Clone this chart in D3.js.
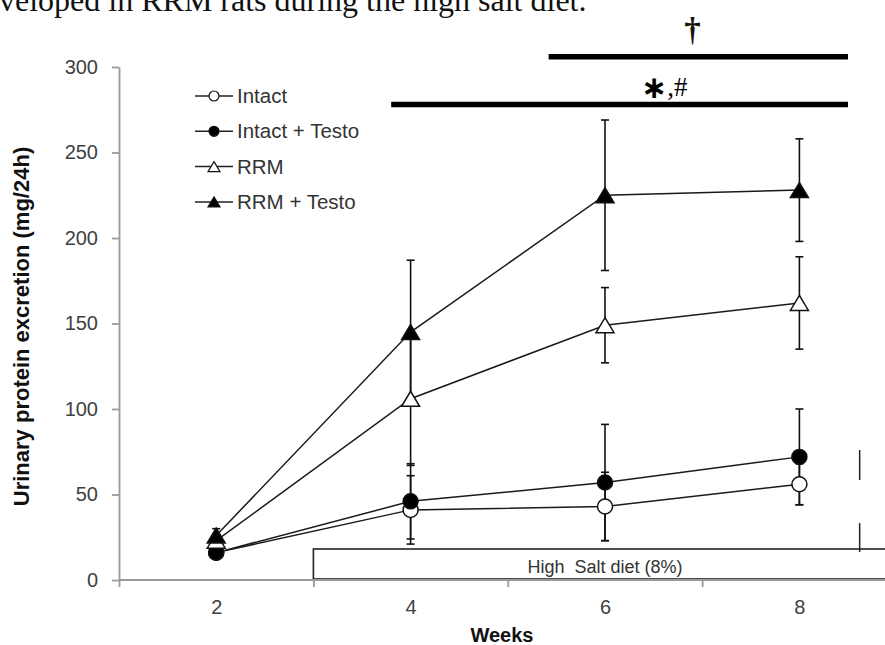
<!DOCTYPE html>
<html lang="en">
<head>
    <meta charset="UTF-8">
    <title>Urinary protein excretion</title>
    <script src="https://d3js.org/d3.v7.min.js"></script>
    <style>
        body {
            margin: 0;
            background-color: #fff;
        }
        svg {
            display: block;
        }
    </style>
</head>
<body>
    <div id="chart"></div>

    <script>
        // data (mean and error per week)
        const weeks = [2, 4, 6, 8];
        const seriesNames = ["Intact", "Intact + Testo", "RRM", "RRM + Testo"];
        const intactMean = [16, 41, 43, 56];
        const intactErr = [3, 20, 20, 12];
        const intactTestoMean = [16, 46, 57, 72];
        const intactTestoErr = [3, 22, 34, 28];
        const rrmMean = [23, 106, 149, 162];
        const rrmErr = [4, 39, 22, 27];
        const rrmTestoMean = [26, 145, 225, 228];
        const rrmTestoErr = [4, 42, 44, 30];

        const yTicks = [0, 50, 100, 150, 200, 250, 300];
        const xMinorTicks = [1, 3, 5, 7, 9];
        const xLabels = [2, 4, 6, 8];

        // annotations
        const dietBand = { from: 3, to: 9.3, label: "High  Salt diet (8%)" };
        const sigBars = [
            { from: 5.42, to: 8.5, level: 306, label: "†", labelAt: 6.9 },
            { from: 3.8, to: 8.5, level: 278, label: "∗,#", labelAt: 6.61 }
        ];
        const breakWeek = 8.62;
        const breakSegs = [[76, 58.5], [33.3, 16.4]];
        const captionText = "veloped in RRM rats during the high salt diet.";

        const width = 885, height = 645;
        const svg = d3.select('#chart').append('svg')
            .attr('width', width)
            .attr('height', height);

        const x = d3.scaleLinear().domain([1, 9]).range([119, 896.6]);
        const y = d3.scaleLinear().domain([0, 300]).range([580, 67]);

        const series = [
            { name: seriesNames[0], mean: intactMean, err: intactErr, shape: 'circle', fill: '#fff' },
            { name: seriesNames[1], mean: intactTestoMean, err: intactTestoErr, shape: 'circle', fill: '#000' },
            { name: seriesNames[2], mean: rrmMean, err: rrmErr, shape: 'triangle', fill: '#fff' },
            { name: seriesNames[3], mean: rrmTestoMean, err: rrmTestoErr, shape: 'triangle', fill: '#000' }
        ];

        // caption fragment cut at the top of the picture (as in the source)
        svg.append('text')
            .attr('x', -1)
            .attr('y', 11)
            .style('font-family', '"Liberation Serif", serif')
            .style('font-size', '32px')
            .style('fill', '#111')
            .text(captionText);

        // high salt diet box
        const band = svg.append('g');
        band.append('rect')
            .attr('x', x(dietBand.from))
            .attr('y', y(0) - 31)
            .attr('width', x(dietBand.to) - x(dietBand.from))
            .attr('height', 30)
            .style('fill', '#fff')
            .style('stroke', '#222')
            .style('stroke-width', 1.6);
        band.append('text')
            .attr('x', x(6))
            .attr('y', y(0) - 7.5)
            .attr('text-anchor', 'middle')
            .style('font-family', '"Liberation Sans", Arial, sans-serif')
            .style('font-size', '18px')
            .style('fill', '#333')
            .style('white-space', 'pre')
            .text(dietBand.label);

        // axes
        const yAxis = svg.append('g')
            .attr('transform', `translate(${x(1)},0)`)
            .call(d3.axisLeft(y).tickValues(yTicks).tickSize(7).tickSizeOuter(0).tickPadding(14));
        const xAxis = svg.append('g')
            .attr('transform', `translate(0,${y(0)})`)
            .call(d3.axisBottom(x).tickValues(xMinorTicks).tickSize(7).tickSizeOuter(0).tickFormat(''));
        xAxis.select('.domain').attr('d', `M${x(1)},0H${width}`);
        const xLab = svg.append('g')
            .attr('transform', `translate(0,${y(0)})`)
            .call(d3.axisBottom(x).tickValues(xLabels).tickSize(0).tickPadding(20).tickFormat(d3.format('d')));
        xLab.select('.domain').remove();

        [yAxis, xAxis, xLab].forEach(g => {
            g.selectAll('.domain, line').style('stroke', '#9a9a9a').style('stroke-width', 1.8);
            g.selectAll('text')
                .style('font-family', '"Liberation Sans", Arial, sans-serif')
                .style('font-size', '20px')
                .style('fill', '#404040');
        });

        svg.append('text')
            .attr('x', (x(1) + width) / 2)
            .attr('y', 642)
            .attr('text-anchor', 'middle')
            .style('font-family', '"Liberation Sans", Arial, sans-serif')
            .style('font-size', '20px')
            .style('font-weight', 'bold')
            .style('fill', '#111')
            .text('Weeks');

        svg.append('text')
            .attr('transform', `translate(29,${(y(0) + y(300)) / 2 + 3}) rotate(-90)`)
            .attr('text-anchor', 'middle')
            .style('font-family', '"Liberation Sans", Arial, sans-serif')
            .style('font-size', '22px')
            .style('font-weight', 'bold')
            .style('fill', '#111')
            .text('Urinary protein excretion (mg/24h)');

        // marker shapes
        function markerPath(shape, s) {
            if (shape === 'circle') {
                return d3.symbol().type(d3.symbolCircle).size(Math.PI * s * s)();
            }
            const w = s * 1.2, h = s;
            return `M0,${-h}L${w},${h}L${-w},${h}Z`;
        }

        const plot = svg.append('g');
        const line = d3.line().x((d, i) => x(weeks[i])).y(d => y(d));

        series.forEach(s => {
            plot.append('path')
                .datum(s.mean)
                .attr('d', line)
                .style('fill', 'none')
                .style('stroke', '#1a1a1a')
                .style('stroke-width', 1.5);
        });

        // error bars
        series.forEach(s => {
            const g = plot.append('g').selectAll('g')
                .data(s.mean.map((m, i) => ({ w: weeks[i], m, e: s.err[i] })))
                .enter().append('g');
            g.append('line')
                .attr('x1', d => x(d.w)).attr('x2', d => x(d.w))
                .attr('y1', d => y(d.m - d.e)).attr('y2', d => y(d.m + d.e))
                .style('stroke', '#111').style('stroke-width', 1.6);
            [-1, 1].forEach(sign => {
                g.append('line')
                    .attr('x1', d => x(d.w) - 4).attr('x2', d => x(d.w) + 4)
                    .attr('y1', d => y(d.m + sign * d.e)).attr('y2', d => y(d.m + sign * d.e))
                    .style('stroke', '#111').style('stroke-width', 1.6);
            });
        });

        // markers
        series.forEach(s => {
            plot.append('g').selectAll('path')
                .data(s.mean)
                .enter().append('path')
                .attr('transform', (d, i) => `translate(${x(weeks[i])},${y(d)})`)
                .attr('d', markerPath(s.shape, 7.5))
                .style('fill', s.fill)
                .style('stroke', '#111')
                .style('stroke-width', 1.5);
        });

        // break marks on the right
        plot.selectAll('.brk')
            .data(breakSegs)
            .enter().append('line')
            .attr('class', 'brk')
            .attr('x1', x(breakWeek)).attr('x2', x(breakWeek))
            .attr('y1', d => y(d[0])).attr('y2', d => y(d[1]))
            .style('stroke', '#222').style('stroke-width', 1.5);

        // significance bars
        const sig = svg.append('g');
        sig.selectAll('line')
            .data(sigBars)
            .enter().append('line')
            .attr('x1', d => x(d.from)).attr('x2', d => x(d.to))
            .attr('y1', d => y(d.level)).attr('y2', d => y(d.level))
            .style('stroke', '#000').style('stroke-width', 5.5);

        sig.append('text')
            .attr('x', x(sigBars[0].labelAt))
            .attr('y', y(sigBars[0].level) - 16)
            .attr('text-anchor', 'middle')
            .style('font-family', '"Liberation Serif", serif')
            .style('font-weight', 'bold')
            .style('font-size', '33px')
            .style('fill', '#1a1208')
            .text(sigBars[0].label);

        const star = sig.append('text')
            .attr('x', x(sigBars[1].labelAt))
            .attr('y', y(sigBars[1].level) - 8.5)
            .attr('text-anchor', 'middle')
            .style('fill', '#000');
        star.append('tspan')
            .style('font-family', '"DejaVu Sans", sans-serif')
            .style('font-weight', 'bold')
            .style('font-size', '31px')
            .attr('dy', 2)
            .text(sigBars[1].label[0]);
        star.append('tspan')
            .style('font-family', '"Liberation Serif", serif')
            .style('font-size', '27px')
            .attr('dy', -2)
            .text(sigBars[1].label.slice(1));

        // legend
        const legend = svg.append('g').selectAll('g')
            .data(series)
            .enter().append('g')
            .attr('transform', (d, i) => `translate(195,${96 + i * 35.3})`);
        legend.append('line')
            .attr('x1', 0).attr('x2', 38)
            .style('stroke', '#222').style('stroke-width', 1.5);
        legend.append('path')
            .attr('transform', 'translate(19,0)')
            .attr('d', d => markerPath(d.shape, 5))
            .style('fill', d => d.fill)
            .style('stroke', '#111')
            .style('stroke-width', 1.2);
        legend.append('text')
            .attr('x', 42)
            .attr('y', 7)
            .style('font-family', '"Liberation Sans", Arial, sans-serif')
            .style('font-size', '20.5px')
            .style('fill', '#333')
            .text(d => d.name);
    </script>
</body>
</html>
